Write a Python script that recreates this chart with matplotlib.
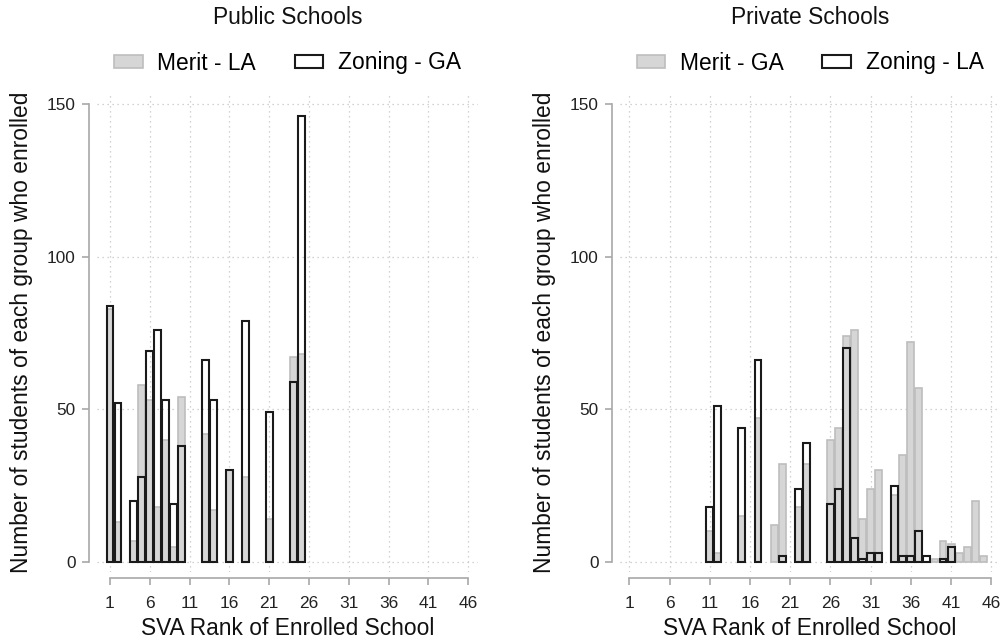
import matplotlib
matplotlib.use('Agg')
import matplotlib.pyplot as plt
from matplotlib.patches import Patch

plt.rcParams['font.family'] = ['Liberation Sans', 'DejaVu Sans']

# ---------------- data ----------------
pub_title = "Public Schools"
pub_merit_label = "Merit - LA"
pub_zoning_label = "Zoning - GA"
pub_merit_rank = [1, 2, 4, 5, 6, 7, 8, 9, 10, 13, 14, 16, 18, 21, 24, 25]
pub_merit_val = [83, 13, 7, 58, 53, 18, 40, 5, 54, 42, 17, 30, 28, 14, 67, 68]
pub_zoning_rank = [1, 2, 4, 5, 6, 7, 8, 9, 10, 13, 14, 16, 18, 21, 24, 25]
pub_zoning_val = [84, 52, 20, 28, 69, 76, 53, 19, 38, 66, 53, 30, 79, 49, 59, 146]

priv_title = "Private Schools"
priv_merit_label = "Merit - GA"
priv_zoning_label = "Zoning - LA"
priv_merit_rank = [11, 12, 15, 17, 19, 20, 22, 23, 26, 27, 28, 29, 30, 31, 32,
                   34, 35, 36, 37, 39, 40, 41, 42, 43, 44, 45]
priv_merit_val = [10, 3, 15, 47, 12, 32, 18, 32, 40, 44, 74, 76, 14, 24, 30,
                  22, 35, 72, 57, 1, 7, 6, 3, 5, 20, 2]
priv_zoning_rank = [11, 12, 15, 17, 20, 22, 23, 26, 27, 28, 29, 30, 31, 32,
                    34, 35, 36, 37, 38, 40, 41]
priv_zoning_val = [18, 51, 44, 66, 2, 24, 39, 19, 24, 70, 8, 1, 3, 3,
                   25, 2, 2, 10, 2, 1, 5]

x_ticks = list(range(1, 47, 5))
y_ticks = [0, 50, 100, 150]
x_label = "SVA Rank of Enrolled School"
y_label = "Number of students of each group who enrolled"

# ---------------- style ----------------
W, H = 1006, 644
GRAY_FILL = '#d6d6d6'
GRAY_EDGE = '#bdbdbd'
DARK_EDGE = '#1a1a1a'
AX_COL = '#a8a8a8'
GRID_COL = '#c4c4c4'
FS_LAB = 16.4
FS_TICK = 12.4

fig = plt.figure(figsize=(W / 100, H / 100), dpi=100)


def add_ax(l, r, b, t):
    return fig.add_axes([l / W, 1 - b / H, (r - l) / W, (b - t) / H])


px_per_unit = 458 / 150.0
ylo = -(572 - 562) / px_per_unit
yhi = 150 + (104 - 92) / px_per_unit


def draw_panel(ax, xlim, mr, mv, zr, zv, title, mlab, zlab, cx, ylab_px):
    ax.set_xlim(*xlim)
    ax.set_ylim(ylo, yhi)
    ax.bar(mr, mv, width=0.86, color=GRAY_FILL, edgecolor=GRAY_EDGE,
           linewidth=1.2, zorder=2)
    ax.bar(zr, zv, width=0.86, facecolor='none', edgecolor=DARK_EDGE,
           linewidth=1.5, zorder=3)
    for s in ['top', 'right']:
        ax.spines[s].set_visible(False)
    ax.spines['left'].set_position(('outward', 6))
    ax.spines['bottom'].set_position(('outward', 4))
    ax.spines['left'].set_bounds(0, 150)
    ax.spines['bottom'].set_bounds(1, 46)
    for s in ['left', 'bottom']:
        ax.spines[s].set_color(AX_COL)
        ax.spines[s].set_linewidth(1.2)
    ax.set_xticks(x_ticks)
    ax.set_yticks(y_ticks)
    ax.tick_params(axis='both', direction='out', length=5, width=1.2,
                   color=AX_COL, labelsize=FS_TICK, labelcolor='#222222')
    ax.tick_params(axis='x', pad=8.5)
    ax.tick_params(axis='y', pad=4.3)
    ax.grid(True, color=GRID_COL, linestyle=(0, (1, 3)), linewidth=0.9,
            zorder=0)
    ax.set_axisbelow(True)
    ax.set_xlabel(x_label, fontsize=FS_LAB, color='#111111')
    ax.xaxis.set_label_coords(0.5, -0.094)
    ax.xaxis.label.set_va('top')
    ax.set_ylabel(y_label, fontsize=FS_LAB, color='#111111')
    pos = ax.get_position()
    ax.yaxis.set_label_coords((ylab_px / W - pos.x0) / pos.width, 0.5)
    fig.text(cx / W, 1 - 18 / H, title, ha='center', va='center',
             fontsize=FS_LAB, color='#111111')
    handles = [Patch(facecolor=GRAY_FILL, edgecolor=GRAY_EDGE, linewidth=1.2,
                     label=mlab),
               Patch(facecolor='white', edgecolor=DARK_EDGE, linewidth=1.5,
                     label=zlab)]
    fig.legend(handles=handles, loc='center', ncol=2, frameon=False,
               bbox_to_anchor=(cx / W, 1 - 63 / H), fontsize=FS_LAB,
               handlelength=1.25, handleheight=0.5, handletextpad=0.65,
               columnspacing=1.7)


ax1 = add_ax(97, 478, 572, 92)
xl1 = (1 - 13 / 7.962, 1 + 368 / 7.962)
draw_panel(ax1, xl1, pub_merit_rank, pub_merit_val, pub_zoning_rank,
           pub_zoning_val, pub_title, pub_merit_label, pub_zoning_label,
           287.5, 33)

ax2 = add_ax(620, 1000, 572, 92)
xl2 = (1 - 9.3 / 8.044, 1 + 370.7 / 8.044)
draw_panel(ax2, xl2, priv_merit_rank, priv_merit_val, priv_zoning_rank,
           priv_zoning_val, priv_title, priv_merit_label, priv_zoning_label,
           810, 556)

fig.savefig('out.png', dpi=100)
